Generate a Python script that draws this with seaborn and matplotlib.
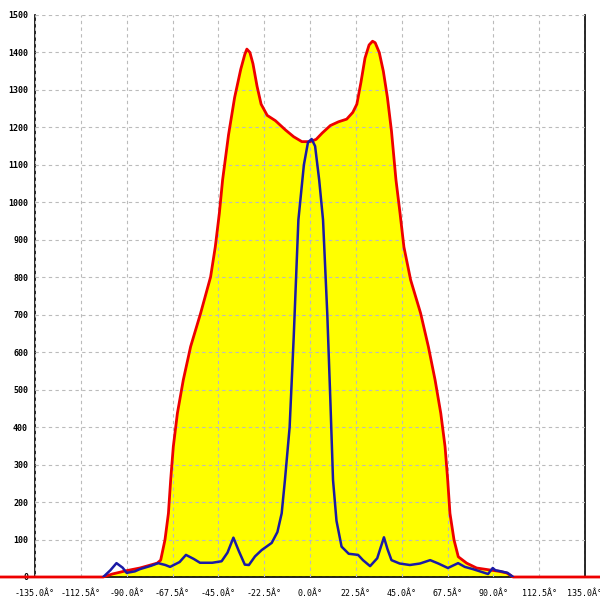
import numpy as np
import pandas as pd
import seaborn as sns
import matplotlib.pyplot as plt

# outer envelope (yellow fill, red edge)
env_angle = [-180, -101.5, -97, -90, -83.5, -75, -73.3, -71.2, -69.5, -68.4, -67.1, -65.1,
             -62.2, -58.6, -53.7, -48.8, -46.5, -44.5, -42.9, -40, -37, -34, -32, -31,
             -29.5, -28, -26, -24, -21, -17, -12, -8, -4, 0, 3, 6, 10, 14, 18, 21, 23,
             25, 27, 29, 30.7, 32, 34, 36, 38, 40, 42.2, 44.2, 46.1, 49.4, 54.3, 58.1,
             61.4, 64.2, 66.3, 67.6, 68.7, 70.7, 72.8, 76.9, 81.8, 88, 93, 96.5, 99.7, 180]
env_value = [0, 0, 8, 17, 24, 37, 45, 99, 170, 259, 348, 437,
             526, 615, 704, 801, 881, 971, 1060, 1180, 1280, 1355, 1395, 1409,
             1400, 1370, 1310, 1262, 1232, 1218, 1193, 1175, 1162, 1162, 1168, 1185, 1205, 1215, 1222, 1240, 1262,
             1320, 1385, 1420, 1430, 1426, 1400, 1350, 1280, 1190, 1060, 971, 881, 793, 704, 615,
             526, 437, 348, 259, 170, 99, 54, 37, 24, 19, 15, 11, 0, 0]

# main lobe (blue)
lobe_angle = [-101.5, -98, -95, -92, -90, -86, -83.5, -78, -74.6, -71, -68.7, -64, -60.9, -57,
              -54, -48, -43.4, -40.5, -37.6, -35, -32, -30, -27, -23.7, -18.8, -16, -13.9,
              -12.3, -10, -8, -5.7, -3, -1, 0.8, 2.5, 4.5, 6.4, 8.5, 10, 11.3, 13, 15.5,
              19, 23.6, 26, 29.5, 33, 36.3, 38, 40, 44, 49, 54, 59, 63, 67.7, 72.7,
              76, 80, 84, 87.4, 89.7, 91, 93, 97, 99.7]
lobe_value = [0, 18, 37, 25, 11, 15, 21, 30, 37, 32, 27, 40, 59, 48,
              38, 38, 42, 65, 105, 70, 33, 32, 55, 72, 91, 120, 170,
              259, 400, 640, 953, 1100, 1160, 1169, 1150, 1060, 953, 700, 470, 259, 150, 81,
              62, 59, 45, 29, 50, 106, 75, 45, 36, 32, 36, 45, 36, 24, 37,
              27, 21, 14, 8, 24, 18, 16, 11, 0]

xticks = np.arange(-135, 135.1, 22.5)
yticks = np.arange(0, 1501, 100)

env = pd.DataFrame({"angle": env_angle, "value": env_value})
lobe = pd.DataFrame({"angle": lobe_angle, "value": lobe_value})

sns.set_style("white")
plt.rcParams["font.family"] = ["DejaVu Sans Mono"]

fig = plt.figure(figsize=(6, 6), dpi=100)
ax = fig.add_axes([35 / 600, 23 / 600, 550 / 600, 562 / 600])

ax.fill_between(env["angle"], env["value"], color="#ffff00", zorder=1, linewidth=0)
sns.lineplot(data=env, x="angle", y="value", sort=False, color="#ee0000", linewidth=2,
             ax=ax, zorder=4, clip_on=False)
sns.lineplot(data=lobe, x="angle", y="value", sort=False, color="#1a1aa6", linewidth=1.8,
             ax=ax, zorder=5)

ax.set_xlim(-135, 135)
ax.set_ylim(0, 1500)
ax.set_xticks(xticks)
ax.set_xticklabels([f"{v:.1f}Â°" for v in xticks], fontsize=6)
ax.set_yticks(yticks)
ax.set_yticklabels([str(v) for v in yticks], fontsize=6, fontweight="bold")
ax.set_xlabel("")
ax.set_ylabel("")

ax.set_axisbelow(False)
ax.grid(True, color="#bbbbbb", linestyle=(0, (3, 3)), linewidth=0.8)
ax.tick_params(axis="x", direction="out", length=5, width=1, color="black",
               labelcolor="black", pad=4)
ax.tick_params(axis="y", direction="inout", length=6, width=1, color="black",
               labelcolor="black", pad=2)

for side in ["left", "right", "bottom"]:
    ax.spines[side].set_visible(True)
    ax.spines[side].set_color("black")
    ax.spines[side].set_linewidth(1.2)
ax.spines["top"].set_visible(False)

plt.savefig("out.png", dpi=100)
